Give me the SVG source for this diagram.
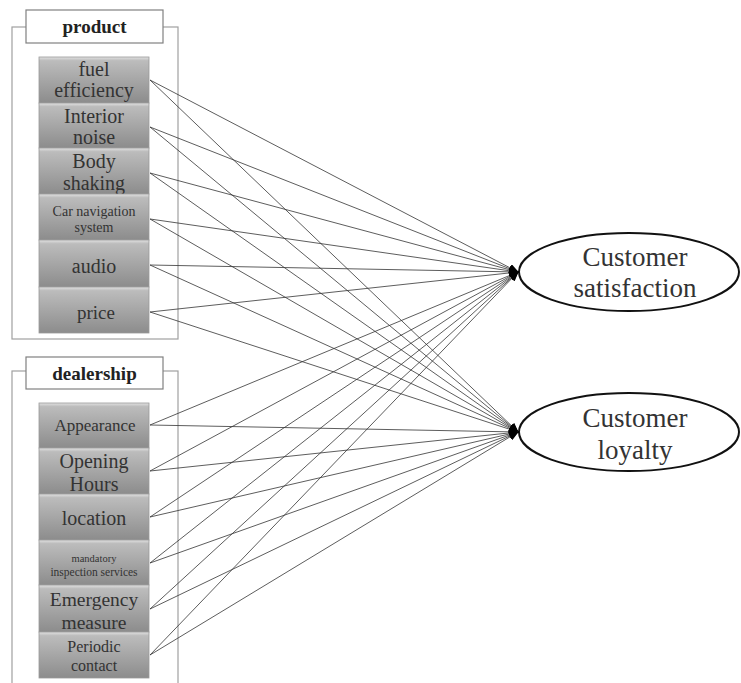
<svg xmlns="http://www.w3.org/2000/svg" width="741" height="683" viewBox="0 0 741 683">
<defs>
<linearGradient id="g" x1="0" y1="0" x2="0" y2="1">
<stop offset="0" stop-color="#e2e2e2"/>
<stop offset="0.08" stop-color="#bcbcbc"/>
<stop offset="1" stop-color="#8c8c8c"/>
</linearGradient>
<marker id="a" markerUnits="userSpaceOnUse" markerWidth="10" markerHeight="8" refX="9" refY="4" orient="auto">
<path d="M0,0 L10,4 L0,8 z" fill="#000"/>
</marker>
<style>
text{font-family:'Liberation Serif','Times New Roman',Times,serif}
.frame{fill:#fff;stroke:#a0a0a0;stroke-width:1.2}
.lab{fill:#fff;stroke:#808080;stroke-width:1.2}
.labt{font-weight:bold;font-size:19px;fill:#222;text-anchor:middle}
.box{fill:url(#g);stroke:#9a9a9a;stroke-width:0.8}
.t{fill:#333;text-anchor:middle}
.ell{fill:#fff;stroke:#111;stroke-width:2}
.et{font-size:27px;fill:#333;text-anchor:middle}
.c line{stroke:#333;stroke-width:0.8;marker-end:url(#a)}
</style>
</defs>
<rect width="741" height="683" fill="#fff"/>
<g id="product">
<rect class="frame" x="12" y="27" width="166" height="312"/>
<rect class="lab" x="26" y="10" width="137" height="33"/>
<text class="labt" x="94.5" y="33">product</text>
</g>
<g id="dealership">
<rect class="frame" x="12" y="371" width="166" height="320"/>
<rect class="lab" x="26" y="357" width="137" height="32"/>
<text class="labt" x="94.5" y="380">dealership</text>
</g>
<g id="fuel"><rect class="box" x="39" y="57" width="110" height="46"/><text class="t" font-size="20" x="94" y="76">fuel</text><text class="t" font-size="20" x="94" y="97">efficiency</text></g>
<g id="interior"><rect class="box" x="39" y="103" width="110" height="45"/><text class="t" font-size="20" x="94" y="123">Interior</text><text class="t" font-size="20" x="94" y="144">noise</text></g>
<g id="body"><rect class="box" x="39" y="148" width="110" height="46"/><text class="t" font-size="20" x="94" y="168">Body</text><text class="t" font-size="20" x="94" y="190">shaking</text></g>
<g id="carnav"><rect class="box" x="39" y="194" width="110" height="46"/><text class="t" font-size="14" x="94" y="216">Car navigation</text><text class="t" font-size="14" x="94" y="232">system</text></g>
<g id="audio"><rect class="box" x="39" y="240" width="110" height="47"/><text class="t" font-size="20" x="94" y="273">audio</text></g>
<g id="price"><rect class="box" x="39" y="287" width="110" height="46"/><text class="t" font-size="19" x="96" y="319">price</text></g>
<g id="appearance"><rect class="box" x="39" y="403" width="110" height="45"/><text class="t" font-size="17" x="95" y="431">Appearance</text></g>
<g id="opening"><rect class="box" x="39" y="448" width="110" height="46"/><text class="t" font-size="20" x="94" y="468">Opening</text><text class="t" font-size="20" x="94" y="491">Hours</text></g>
<g id="location"><rect class="box" x="39" y="494" width="110" height="46"/><text class="t" font-size="20" x="94" y="525">location</text></g>
<g id="mandatory"><rect class="box" x="39" y="540" width="110" height="45"/><text class="t" font-size="10.5" x="94" y="562">mandatory</text><text class="t" font-size="11.5" x="94" y="576">inspection services</text></g>
<g id="emergency"><rect class="box" x="39" y="585" width="110" height="47"/><text class="t" font-size="19.5" x="94" y="606">Emergency</text><text class="t" font-size="19.5" x="94" y="629">measure</text></g>
<g id="periodic"><rect class="box" x="39" y="632" width="110" height="46"/><text class="t" font-size="16" x="94" y="652">Periodic</text><text class="t" font-size="16" x="94" y="671">contact</text></g>
<g id="satisfaction"><ellipse class="ell" cx="629" cy="272" rx="110" ry="39"/><text class="et" x="635" y="266">Customer</text><text class="et" x="635" y="297">satisfaction</text></g>
<g id="loyalty"><ellipse class="ell" cx="629" cy="432" rx="110" ry="39"/><text class="et" x="635" y="427">Customer</text><text class="et" x="635" y="459">loyalty</text></g>
<g id="connectors" class="c">
<line x1="150" y1="80" x2="518" y2="272"/><line x1="150" y1="80" x2="518" y2="432"/>
<line x1="150" y1="127" x2="518" y2="272"/><line x1="150" y1="127" x2="518" y2="432"/>
<line x1="150" y1="173" x2="518" y2="272"/><line x1="150" y1="173" x2="518" y2="432"/>
<line x1="150" y1="219" x2="518" y2="272"/><line x1="150" y1="219" x2="518" y2="432"/>
<line x1="150" y1="265" x2="518" y2="272"/><line x1="150" y1="265" x2="518" y2="432"/>
<line x1="150" y1="312" x2="518" y2="272"/><line x1="150" y1="312" x2="518" y2="432"/>
<line x1="150" y1="425" x2="518" y2="272"/><line x1="150" y1="425" x2="518" y2="432"/>
<line x1="150" y1="471" x2="518" y2="272"/><line x1="150" y1="471" x2="518" y2="432"/>
<line x1="150" y1="517" x2="518" y2="272"/><line x1="150" y1="517" x2="518" y2="432"/>
<line x1="150" y1="563" x2="518" y2="272"/><line x1="150" y1="563" x2="518" y2="432"/>
<line x1="150" y1="609" x2="518" y2="272"/><line x1="150" y1="609" x2="518" y2="432"/>
<line x1="150" y1="655" x2="518" y2="272"/><line x1="150" y1="655" x2="518" y2="432"/>
</g>
</svg>
